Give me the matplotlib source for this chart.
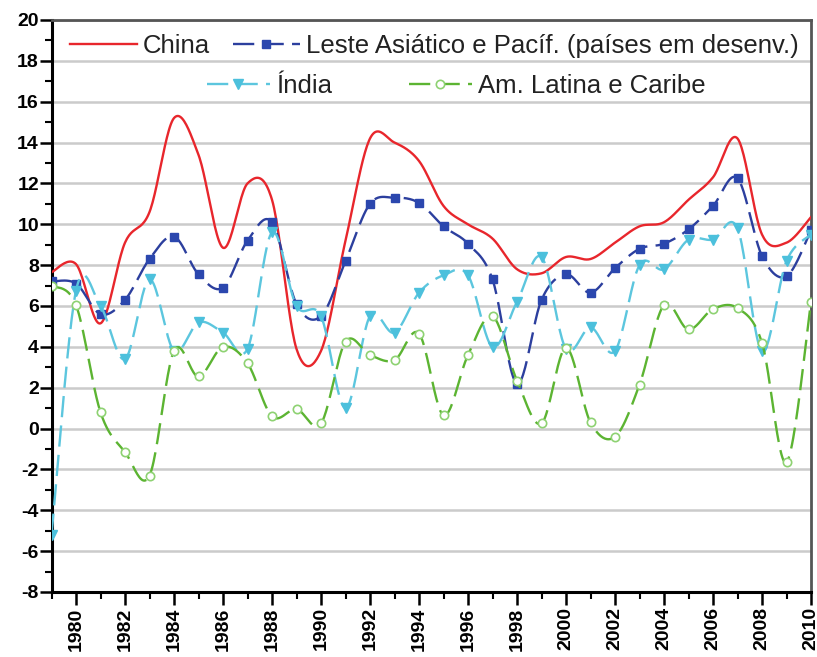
import numpy as np
import matplotlib
matplotlib.use("Agg")
import matplotlib.pyplot as plt
from matplotlib.ticker import MultipleLocator

plt.rcParams['font.family'] = ['Liberation Sans', 'DejaVu Sans']
plt.rcParams['axes.unicode_minus'] = False

years = list(range(1979, 2011))

china = [7.65, 8.05, 5.15, 9.1, 10.6, 15.2, 13.4, 8.85, 12.0, 11.2, 3.9, 3.8,
         9.2, 14.2, 14.0, 13.1, 10.9, 10.0, 9.3, 7.8, 7.6, 8.4, 8.3, 9.1,
         9.9, 10.1, 11.2, 12.3, 14.2, 9.5, 9.1, 10.35]

leste_asiatico = [7.2, 7.1, 5.6, 6.3, 8.3, 9.4, 7.55, 6.9, 9.2, 10.1, 6.1, 5.5,
                  8.2, 11.0, 11.3, 11.05, 9.9, 9.05, 7.3, 2.2, 6.3, 7.55, 6.65, 7.85,
                  8.8, 9.05, 9.75, 10.9, 12.25, 8.45, 7.45, 9.7]

india = [-5.2, 6.75, 6.0, 3.4, 7.3, 3.8, 5.2, 4.7, 3.9, 9.6, 6.0, 5.5,
         1.0, 5.5, 4.7, 6.65, 7.5, 7.5, 4.0, 6.2, 8.4, 3.9, 4.95, 3.8,
         8.0, 7.8, 9.25, 9.25, 9.8, 3.8, 8.2, 9.5]

am_latina = [7.0, 6.05, 0.8, -1.15, -2.3, 3.8, 2.55, 4.0, 3.2, 0.6, 0.95, 0.25,
             4.25, 3.6, 3.35, 4.65, 0.65, 3.6, 5.5, 2.35, 0.25, 3.95, 0.3, -0.4,
             2.15, 6.05, 4.85, 5.85, 5.9, 4.2, -1.65, 6.2]

labels = ["China", "Leste Asiático e Pacíf. (países em desenv.)",
          "Índia", "Am. Latina e Caribe"]

x_ticks = list(range(1980, 2011, 2))
y_ticks = list(range(-8, 21, 2))


def smooth(x, y, n=24):
    """Excel-like smoothed line: cubic Bezier through every point."""
    P = np.column_stack([np.asarray(x, float), np.asarray(y, float)])
    k = len(P)
    out = []
    for i in range(k - 1):
        pm = P[i - 1] if i > 0 else P[i]
        pp = P[i + 2] if i + 2 < k else P[i + 1]
        c1 = P[i] + (P[i + 1] - pm) / 6.0
        c2 = P[i + 1] - (pp - P[i]) / 6.0
        t = np.linspace(0, 1, n, endpoint=False)[:, None]
        seg = ((1 - t) ** 3) * P[i] + 3 * ((1 - t) ** 2) * t * c1 \
            + 3 * (1 - t) * t ** 2 * c2 + t ** 3 * P[i + 1]
        out.append(seg)
    out.append(P[-1:])
    s = np.vstack(out)
    marks = [i * n for i in range(k)]
    return s[:, 0], s[:, 1], marks


fig = plt.figure(figsize=(8.17, 6.57), dpi=100)
ax = fig.add_axes([51.5 / 817, 1 - 592 / 657, (811 - 51.5) / 817, (592 - 20) / 657])

for yv in y_ticks:
    ax.axhline(yv, color='#cbcbcb', lw=1.8, zorder=0)

N = 24
sx, sy, mk = smooth(years, china, N)
h_china, = ax.plot(sx, sy, color='#e8262c', lw=1.7, label=labels[0], zorder=3)

sx, sy, mk = smooth(years, leste_asiatico, N)
h_leste, = ax.plot(sx, sy, color='#2c3f9e', lw=1.7, dashes=(9, 3.5),
                   marker='s', markersize=6, markevery=mk,
                   markerfacecolor='#2b47ae', markeredgecolor='#2b47ae',
                   label=labels[1], zorder=4)

sx, sy, mk = smooth(years, india, N)
h_india, = ax.plot(sx, sy, color='#5cc6de', lw=1.7, dashes=(9, 3.5),
                   marker='v', markersize=7, markevery=mk,
                   markerfacecolor='#4cc0dc', markeredgecolor='#4cc0dc',
                   label=labels[2], zorder=4)

sx, sy, mk = smooth(years, am_latina, N)
h_lat, = ax.plot(sx, sy, color='#5cb432', lw=1.7, dashes=(9, 3.5),
                 marker='o', markersize=6, markevery=mk,
                 markerfacecolor='white', markeredgecolor='#8ed272',
                 markeredgewidth=1.2, label=labels[3], zorder=4)

ax.set_xlim(1979, 2010)
ax.set_ylim(-8, 20)
ax.set_xticks(x_ticks)
ax.set_yticks(y_ticks)
ax.xaxis.set_minor_locator(MultipleLocator(1))
ax.yaxis.set_minor_locator(MultipleLocator(1))
ax.tick_params(axis='both', which='major', direction='out', length=9, width=1.8,
               labelsize=14, color='black')
ax.tick_params(axis='both', which='minor', direction='out', length=5, width=1.5,
               color='black')
ax.tick_params(axis='x', which='major', pad=2)
ax.tick_params(axis='y', which='major', pad=0)
for lab in ax.get_xticklabels():
    lab.set_rotation(90)
    lab.set_fontweight('bold')
for lab in ax.get_yticklabels():
    lab.set_fontweight('bold')

ax.spines['left'].set_linewidth(2.2)
ax.spines['bottom'].set_linewidth(2.2)
ax.spines['top'].set_linewidth(2.0)
ax.spines['top'].set_color('#555555')
ax.spines['right'].set_linewidth(2.0)
ax.spines['right'].set_color('#555555')

leg1 = fig.legend(handles=[h_china, h_leste], loc='center left',
                  bbox_to_anchor=(70 / 817, 1 - 46 / 657), ncol=2, frameon=False,
                  fontsize=18.5, handlelength=2.6, handletextpad=0.23,
                  columnspacing=0.9, borderpad=0, borderaxespad=0, numpoints=1)
leg2 = fig.legend(handles=[h_india, h_lat], loc='center left',
                  bbox_to_anchor=(207 / 817, 1 - 86 / 657), ncol=2, frameon=False,
                  fontsize=18.5, handlelength=2.45, handletextpad=0.23,
                  columnspacing=3.0, borderpad=0, borderaxespad=0, numpoints=1)
for lg in (leg1, leg2):
    for t in lg.get_texts():
        t.set_color('#222222')

fig.savefig('out.png', dpi=100)
